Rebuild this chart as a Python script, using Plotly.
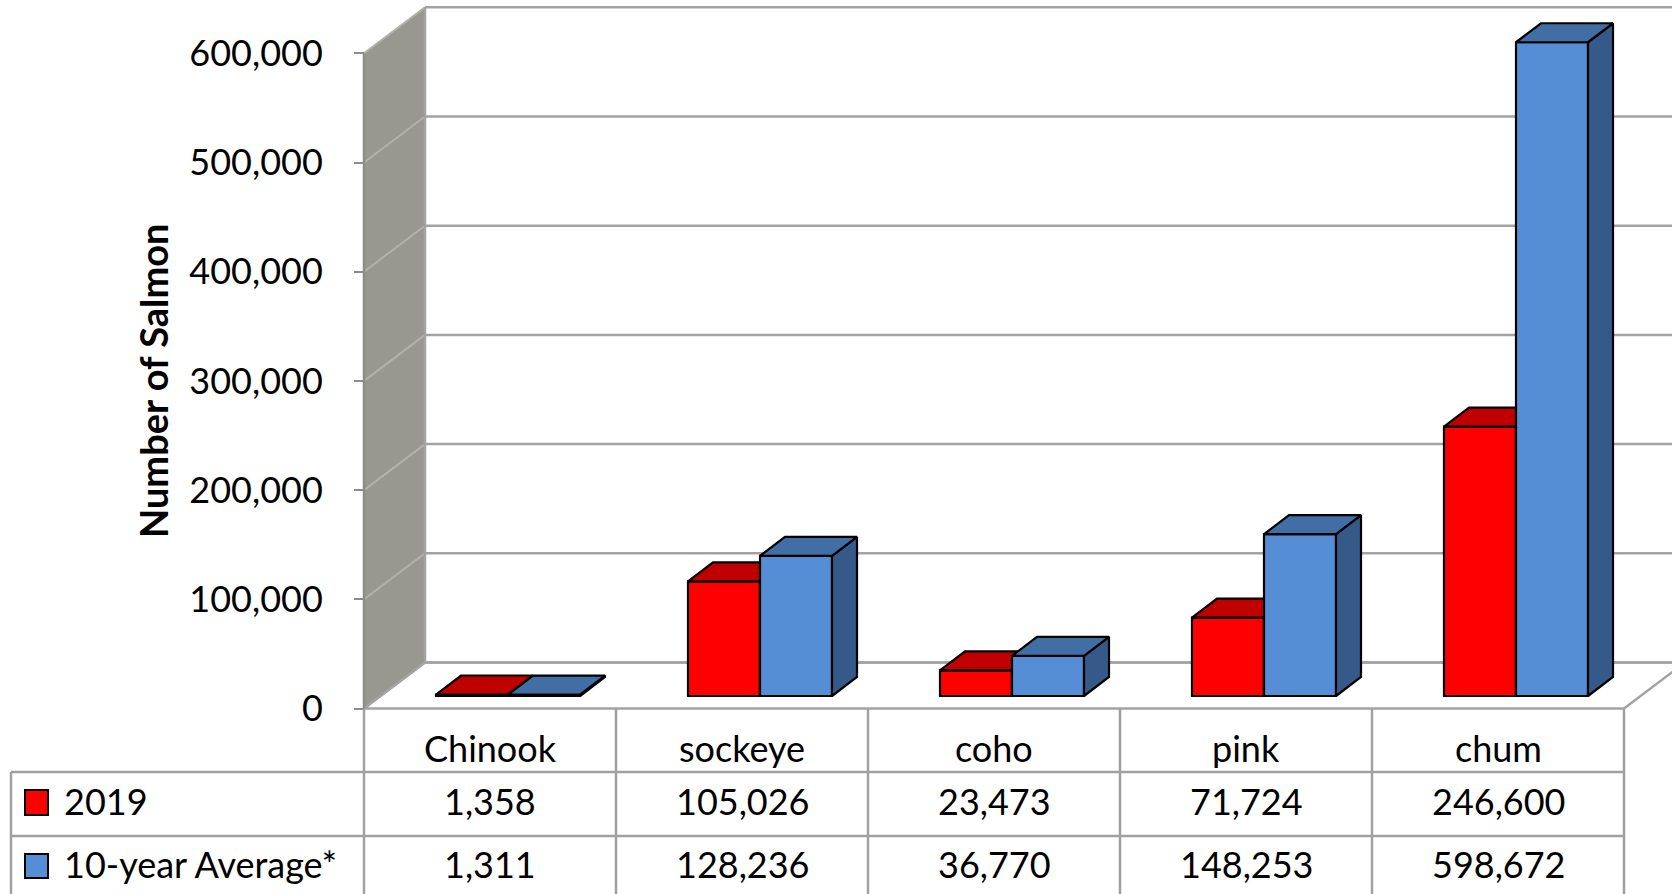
import plotly.graph_objects as go

# ---------------- data ----------------
categories = ["Chinook", "sockeye", "coho", "pink", "chum"]
series_names = ["2019", "10-year Average*"]
values_2019 = [1358, 105026, 23473, 71724, 246600]
values_avg = [1311, 128236, 36770, 148253, 598672]
y_tick_values = [0, 100000, 200000, 300000, 400000, 500000, 600000]
y_title = "Number of Salmon"

# ---------------- geometry (pixels) ----------------
W, H = 1672, 894
X0_PX = 364.0          # front-left corner of floor / first table column
CAT_PX = 252.0         # width of one category column
Y0_PX = 708.5          # front floor edge (value 0)
PX_PER_VAL = 109.2 / 100000
WALL_DX_PX, WALL_DY_PX = 61.0, 46.0
BAR_DX_PX, BAR_DY_PX = 25.0, 19.0
BAR_BASE_PX = 12.5
BAR_SHIFT_PX = 18.0
BAR_W_PX = 72.0

FONT = "Lato"
RED, RED_TOP, RED_SIDE = "#ff0000", "#c00000", "#a00000"
BLUE, BLUE_TOP, BLUE_SIDE = "#558ed5", "#426ea6", "#355a8a"
WALL = "#989890"
GRID = "#a3a3a3"
WALL_GRID = "#b2b2ac"


def ux(px):
    return (px - X0_PX) / CAT_PX


def vy(py):
    return (Y0_PX - py) / PX_PER_VAL


DXu = WALL_DX_PX / CAT_PX
DYv = WALL_DY_PX / PX_PER_VAL
BXu = BAR_DX_PX / CAT_PX
BYv = BAR_DY_PX / PX_PER_VAL
BASE = BAR_BASE_PX / PX_PER_VAL
SHIFT = BAR_SHIFT_PX / CAT_PX
BW = BAR_W_PX / CAT_PX
n = len(categories)
top_val = y_tick_values[-1]
XR = [ux(0), ux(W)]
YR = [vy(H), vy(0)]

shapes = []
# left side wall
shapes.append(dict(type="path", xref="x", yref="y", layer="below",
                   path=f"M 0,0 L 0,{top_val} L {DXu},{top_val + DYv} L {DXu},{DYv} Z",
                   fillcolor=WALL, line=dict(width=0)))
# floor
shapes.append(dict(type="path", xref="x", yref="y", layer="below",
                   path=f"M 0,0 L {n},0 L {n + DXu},{DYv} L {DXu},{DYv} Z",
                   fillcolor="white", line=dict(color=GRID, width=2.5)))
for v in y_tick_values:
    # diagonal grid on the side wall
    shapes.append(dict(type="line", xref="x", yref="y", layer="below",
                       x0=0, y0=v, x1=DXu, y1=v + DYv,
                       line=dict(color=WALL_GRID if v else GRID, width=2)))
    # horizontal grid on the back wall
    shapes.append(dict(type="line", xref="x", yref="y", layer="below",
                       x0=DXu, y0=v + DYv, x1=XR[1] + 1, y1=v + DYv,
                       line=dict(color=GRID, width=2.5)))
# back wall left edge
shapes.append(dict(type="line", xref="x", yref="y", layer="below",
                   x0=DXu, y0=DYv, x1=DXu, y1=top_val + DYv,
                   line=dict(color=GRID, width=2.5)))
# front axis edge
shapes.append(dict(type="line", xref="x", yref="y", layer="below",
                   x0=0, y0=0, x1=0, y1=top_val,
                   line=dict(color="#8c8c8c", width=2.5)))

# ---------------- data table ----------------
TABLE_LINE = "#a0a0a0"
for i in range(n + 1):
    shapes.append(dict(type="line", xref="x", yref="y", x0=i, x1=i, y0=0, y1=vy(H + 5),
                       line=dict(color=TABLE_LINE, width=2.5)))
for py in (772, 836):
    shapes.append(dict(type="line", xref="x", yref="y", x0=ux(11), x1=n, y0=vy(py), y1=vy(py),
                       line=dict(color=TABLE_LINE, width=2.5)))
shapes.append(dict(type="line", xref="x", yref="y", x0=ux(11), x1=ux(11), y0=vy(772), y1=vy(H + 5),
                   line=dict(color=TABLE_LINE, width=2.5)))

header_py = 748
row_text_py = [801, 864]
key_py = [(790, 815), (854, 878)]
key_colors = [RED, BLUE]
annotations = []
for i, c in enumerate(categories):
    annotations.append(dict(x=i + 0.5, y=vy(header_py), xref="x", yref="y", text=c, showarrow=False,
                            font=dict(family=FONT, size=36, color="black"), yanchor="middle"))
for r, (name, vals) in enumerate(zip(series_names, [values_2019, values_avg])):
    annotations.append(dict(x=ux(62), y=vy(row_text_py[r]), xref="x", yref="y", text=name,
                            showarrow=False, xanchor="left", yanchor="middle",
                            font=dict(family=FONT, size=36, color="black")))
    shapes.append(dict(type="rect", xref="x", yref="y", x0=ux(25), x1=ux(48),
                       y0=vy(key_py[r][1]), y1=vy(key_py[r][0]),
                       fillcolor=key_colors[r], line=dict(color="black", width=2)))
    for i, v in enumerate(vals):
        annotations.append(dict(x=i + 0.5, y=vy(row_text_py[r]), xref="x", yref="y", text=f"{v:,}",
                                showarrow=False, yanchor="middle",
                                font=dict(family=FONT, size=36, color="black")))

annotations.append(dict(x=ux(153), y=vy(381), xref="x", yref="y", text=f"<b>{y_title}</b>",
                        textangle=-90, showarrow=False,
                        font=dict(family=FONT, size=38, color="black")))


# ---------------- bars ----------------
def faces(vals, left_offset):
    tx, ty, sx, sy, fx = [], [], [], [], []
    for i, v in enumerate(vals):
        xl = i + 0.5 + SHIFT + left_offset
        xr = xl + BW
        t = BASE + v
        fx.append(xl + BW / 2)
        tx += [xl, xr, xr + BXu, xl + BXu, xl, None]
        ty += [t, t, t + BYv, t + BYv, t, None]
        sx += [xr, xr, xr + BXu, xr + BXu, xr, None]
        sy += [BASE, t, t + BYv, BASE + BYv, BASE, None]
    return fx, tx, ty, sx, sy


fig = go.Figure()
outline = dict(color="black", width=2.2)
for vals, off, col, topc, sidec, name, xa, ya in [
    (values_2019, -BW, RED, RED_TOP, RED_SIDE, series_names[0], "x", "y"),
    (values_avg, 0.0, BLUE, BLUE_TOP, BLUE_SIDE, series_names[1], "x2", "y2"),
]:
    fx, tx, ty, sx, sy = faces(vals, off)
    fig.add_trace(go.Bar(x=fx, y=vals, base=BASE, width=BW, name=name,
                         marker=dict(color=col, line=outline),
                         xaxis=xa, yaxis=ya, hoverinfo="skip"))
    fig.add_trace(go.Scatter(x=sx, y=sy, mode="lines", fill="toself", fillcolor=sidec,
                             line=outline, xaxis=xa, yaxis=ya, hoverinfo="skip"))
    fig.add_trace(go.Scatter(x=tx, y=ty, mode="lines", fill="toself", fillcolor=topc,
                             line=outline, xaxis=xa, yaxis=ya, hoverinfo="skip"))

fig.update_layout(
    width=W, height=H,
    margin=dict(l=0, r=0, t=0, b=0),
    paper_bgcolor="white", plot_bgcolor="white",
    showlegend=False,
    shapes=shapes, annotations=annotations,
    xaxis=dict(range=XR, visible=False, fixedrange=True, domain=[0, 1]),
    xaxis2=dict(range=XR, visible=False, fixedrange=True, overlaying="x", anchor="y2"),
    yaxis=dict(range=YR, anchor="free", position=X0_PX / W, fixedrange=True,
               showgrid=False, zeroline=False, showline=False,
               tickvals=y_tick_values, ticktext=[f"{v:,}" for v in y_tick_values],
               ticks="outside", ticklen=10, tickwidth=2, tickcolor="#8c8c8c",
               ticklabelstandoff=24,
               tickfont=dict(family=FONT, size=36, color="black")),
    yaxis2=dict(range=YR, visible=False, fixedrange=True, overlaying="y", anchor="x2"),
)

fig.write_html("out.html", config={"displayModeBar": False},
               post_script="document.body.style.margin='0px';document.body.style.overflow='hidden';")
